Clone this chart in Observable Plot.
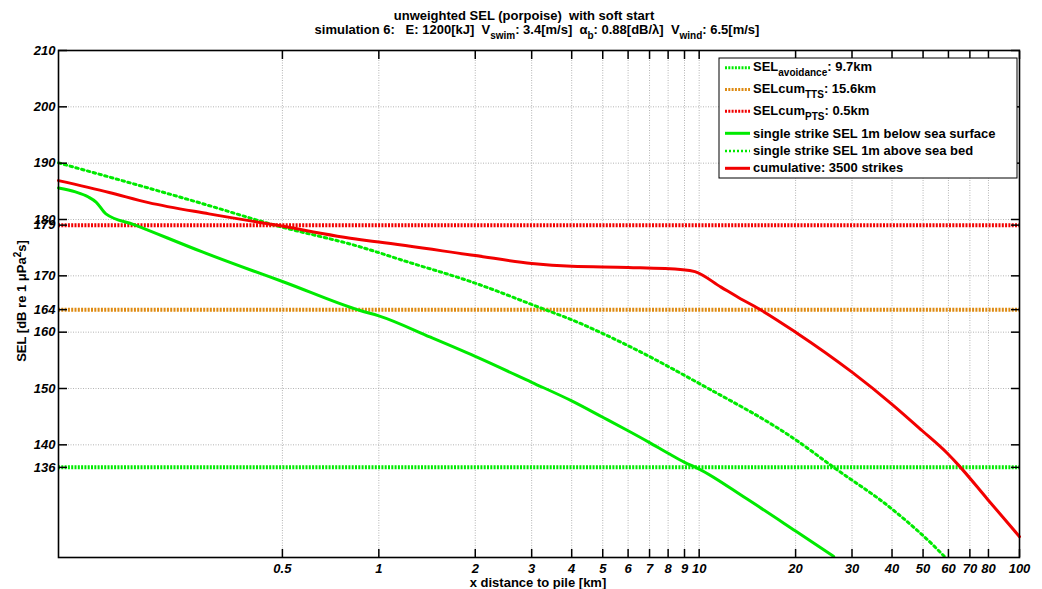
<!DOCTYPE html>
<html><head><meta charset="utf-8">
<script src="https://cdn.jsdelivr.net/npm/d3@7"></script>
<script src="https://cdn.jsdelivr.net/npm/@observablehq/plot@0.6"></script>
<style>
body{margin:0;background:#fff;}
#chart{position:relative;width:1042px;height:589px;}
</style>
</head><body><div id="chart"></div>
<script>
// ---------- data ----------
const xTicks = [0.5, 1, 2, 3, 4, 5, 6, 7, 8, 9, 10, 20, 30, 40, 50, 60, 70, 80, 100];
const yTicks = [136, 140, 150, 160, 164, 170, 179, 180, 190, 200, 210];
const yGrid = [140, 150, 160, 170, 180, 190, 200];

const thrAvoid = 136, thrTTS = 164, thrPTS = 179;

// single strike SEL 1m below sea surface
const surfX = [0.1, 0.113, 0.124, 0.131, 0.1406, 0.172, 0.2825, 0.404, 0.5, 0.879, 1, 1.45, 2, 3, 4, 5, 6, 7, 8, 9, 10, 14, 20, 26.3];
const surfY = [185.6, 184.9, 184.0, 183.1, 181.0, 179.1, 174.2, 170.9, 169.0, 163.8, 162.9, 159.1, 155.7, 151.1, 147.8, 144.9, 142.5, 140.4, 138.5, 136.9, 135.7, 130.5, 124.7, 120.2];

// single strike SEL 1m above sea bed
const bedX = [0.1, 0.282, 0.466, 0.879, 1.21, 2, 3.2, 4, 6, 10, 20, 26.3, 40, 55.3, 58.7];
const bedY = [190.05, 182.8, 179.1, 175.1, 172.6, 168.7, 164.3, 162.2, 157.6, 150.9, 140.9, 136.0, 128.6, 121.5, 120.0];

// cumulative: 3500 strikes
const cumX = [0.1, 0.144, 0.191, 0.295, 0.467, 0.879, 1, 2, 3, 4, 6, 8.9, 9.7, 11.7, 13.5, 15.2, 20, 30, 40, 49.7, 59.5, 64.5, 79.3, 100];
const cumY = [186.9, 184.8, 183.0, 181.0, 179.1, 176.4, 176.0, 173.6, 172.2, 171.7, 171.5, 171.1, 170.75, 168.0, 165.9, 164.3, 160.0, 152.9, 147.2, 142.5, 138.5, 136.4, 130.4, 123.7];

// ---------- styling ----------
const GREEN = "#00ea00", RED = "#f20000", ORANGE = "#de8a12", GRID = "#b4b4b4";
const FONT = "'Liberation Sans', Arial, Helvetica, sans-serif";

const toRows = (xs, ys) => xs.map((x, i) => ({x, y: ys[i]}));
const surf = toRows(surfX, surfY), bed = toRows(bedX, bedY), cum = toRows(cumX, cumY);

const thrStyle = {strokeWidth: 4, strokeDasharray: "2,1.3"};

const plot = Plot.plot({
  width: 1042, height: 589,
  marginTop: 50, marginRight: 23, marginBottom: 32, marginLeft: 58,
  style: {fontFamily: FONT, fontSize: "13px", fontWeight: "bold", fontStyle: "italic", background: "white", color: "black", overflow: "visible"},
  x: {type: "log", domain: [0.1, 100]},
  y: {domain: [120, 210]},
  marks: [
    Plot.gridX(xTicks, {stroke: GRID, strokeOpacity: 1, strokeWidth: 1, strokeDasharray: "1,1.5"}),
    Plot.gridY(yGrid, {stroke: GRID, strokeOpacity: 1, strokeWidth: 1, strokeDasharray: "1,1.5"}),
    Plot.ruleY([thrAvoid], {stroke: GREEN, ...thrStyle}),
    Plot.ruleY([thrTTS], {stroke: ORANGE, ...thrStyle}),
    Plot.ruleY([thrPTS], {stroke: RED, ...thrStyle}),
    Plot.line(surf, {x: "x", y: "y", stroke: GREEN, strokeWidth: 3, curve: "monotone-x"}),
    Plot.line(bed, {x: "x", y: "y", stroke: GREEN, strokeWidth: 3, strokeDasharray: "2.5,3.5", curve: "monotone-x"}),
    Plot.line(cum, {x: "x", y: "y", stroke: RED, strokeWidth: 3, curve: "monotone-x"}),
    // tick labels
    Plot.text(xTicks, {x: d => d, y: 120, text: d => String(d), dy: 6, lineAnchor: "top", fill: "black"}),
    Plot.axisY({ticks: yTicks, tickSize: 0, tickPadding: 3, tickFormat: d => String(d), label: null}),
    // inward tick marks on all four sides
    Plot.axisX({ticks: xTicks, anchor: "bottom", tickSize: 8, dy: -8, tickFormat: () => "", label: null, strokeWidth: 1.5}),
    Plot.axisX({ticks: xTicks, anchor: "top", tickSize: 8, dy: 8, tickFormat: () => "", label: null, strokeWidth: 1.5}),
    Plot.axisY({ticks: yTicks, anchor: "left", tickSize: 9, dx: 9, tickFormat: () => "", label: null, strokeWidth: 1.5}),
    Plot.axisY({ticks: yTicks, anchor: "right", tickSize: 9, dx: -9, tickFormat: () => "", label: null, strokeWidth: 1.5}),
    Plot.frame({stroke: "black", strokeWidth: 1.6})
  ]
});

document.getElementById("chart").appendChild(plot);

const svg = d3.select(plot);
const NS = "font-style:normal;font-weight:bold;font-family:" + FONT;

function sub(el, main, s, rest) {
  el.append("tspan").text(main);
  el.append("tspan").attr("dy", 5).attr("font-size", 10).text(s);
  el.append("tspan").attr("dy", -5).text(rest);
}

// ---------- title ----------
const t = svg.append("g").attr("style", NS).attr("font-size", 13).attr("fill", "black").attr("text-anchor", "middle");
t.append("text").attr("x", 524).attr("y", 19.5).attr("xml:space", "preserve").style("white-space", "pre")
  .text("unweighted SEL (porpoise)  with soft start");
const t2 = t.append("text").attr("x", 537).attr("y", 34).attr("xml:space", "preserve").style("white-space", "pre");
t2.append("tspan").text("simulation 6:   E: 1200[kJ]  ");
sub(t2, "V", "swim", ": 3.4[m/s]  ");
sub(t2, "α", "b", ": 0.88[dB/λ]  ");
sub(t2, "V", "wind", ": 6.5[m/s]");

// ---------- axis titles ----------
svg.append("text").attr("style", NS).attr("font-size", 13).attr("text-anchor", "middle")
  .attr("x", 538).attr("y", 587).text("x distance to pile [km]");
const yl = svg.append("text").attr("style", NS).attr("font-size", 13).attr("text-anchor", "middle")
  .attr("transform", "translate(26,301) rotate(-90)");
yl.append("tspan").text("SEL [dB re 1 μPa");
yl.append("tspan").attr("dy", -5).attr("font-size", 10).text("2");
yl.append("tspan").attr("dy", 5).text("s]");

// ---------- legend ----------
const lg = svg.append("g").attr("style", NS).attr("font-size", 13).attr("text-anchor", "start");
lg.append("rect").attr("x", 719).attr("y", 58).attr("width", 298).attr("height", 120)
  .attr("fill", "white").attr("stroke", "black").attr("stroke-width", 1);
const entries = [
  {main: "SEL", s: "avoidance", rest: ": 9.7km", base: 70.5, ly: 67.7, stroke: GREEN, w: 3, dash: "2,1.3"},
  {main: "SELcum", s: "TTS", rest: ": 15.6km", base: 92.5, ly: 89.5, stroke: ORANGE, w: 3, dash: "2,1.3"},
  {main: "SELcum", s: "PTS", rest: ": 0.5km", base: 114.5, ly: 111.2, stroke: RED, w: 3, dash: "2,1.3"},
  {main: "single strike SEL 1m below sea surface", base: 137.7, ly: 133.3, stroke: GREEN, w: 3, dash: null},
  {main: "single strike SEL 1m above sea bed", base: 155, ly: 151, stroke: GREEN, w: 2.5, dash: "2,2"},
  {main: "cumulative: 3500 strikes", base: 171.7, ly: 168.3, stroke: RED, w: 3, dash: null}
];
for (const e of entries) {
  const ln = lg.append("line").attr("x1", 725).attr("x2", 750).attr("y1", e.ly).attr("y2", e.ly)
    .attr("stroke", e.stroke).attr("stroke-width", e.w);
  if (e.dash) ln.attr("stroke-dasharray", e.dash);
  const tx = lg.append("text").attr("x", 753).attr("y", e.base).attr("text-anchor", "start");
  if (e.s) sub(tx, e.main, e.s, e.rest); else tx.text(e.main);
}
</script>
</body></html>
